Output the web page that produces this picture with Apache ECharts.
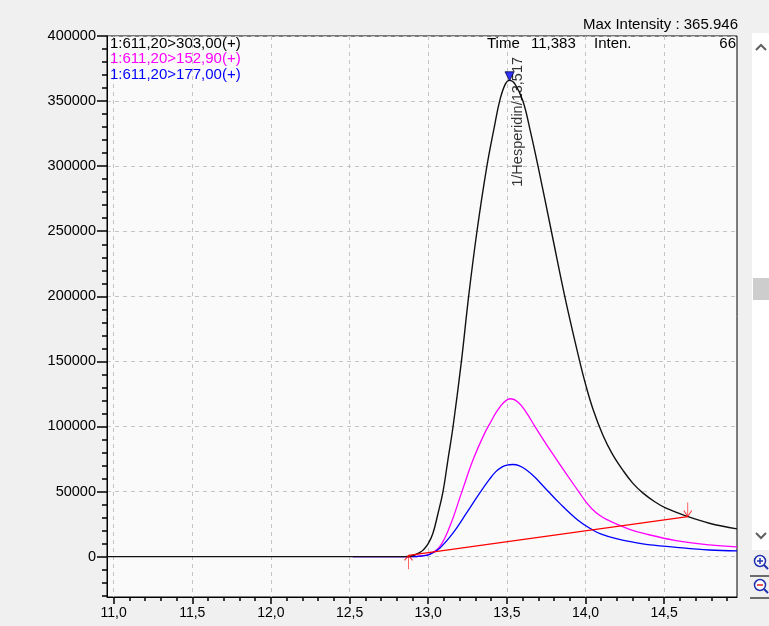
<!DOCTYPE html>
<html>
<head>
<meta charset="utf-8">
<script src="https://cdn.jsdelivr.net/npm/echarts@6/dist/echarts.min.js"></script>
<style>
  html, body { margin: 0; padding: 0; background: #f0f0f0; }
  #chart { width: 769px; height: 626px; }
</style>
</head>
<body>
<div id="chart"></div>
<script>
// MRM transitions of precursor 611,20 (Hesperidin)
const name303 = '1:611,20>303,00(+)';
const name1529 = '1:611,20>152,90(+)';
const name177 = '1:611,20>177,00(+)';

// retention time (min) / intensity for 611,20 > 303,00
const time303 = [10.958, 12.50, 12.85, 12.90, 12.95, 12.967, 13.00, 13.03, 13.06, 13.094, 13.126, 13.158,
  13.211, 13.257, 13.31, 13.373, 13.42, 13.454, 13.49, 13.517, 13.55, 13.602, 13.65, 13.698,
  13.783, 13.868, 13.963, 14.0, 14.047, 14.11, 14.17, 14.237, 14.30, 14.364, 14.44, 14.512, 14.65, 14.787, 14.963];
const inten303 = [0, 0, 0, 700, 3500, 5000, 10000, 18000, 32000, 50000, 75000, 100000,
  150000, 200000, 250000, 300000, 330000, 350000, 363000, 365946, 363500, 350000, 326500, 300000,
  250000, 200000, 150000, 132500, 113500, 93500, 79000, 66500, 56500, 49000, 42200, 37200, 30800, 25700, 21300];

// 611,20 > 152,90
const time1529 = [12.52, 12.90, 12.95, 13.01, 13.073, 13.137, 13.211, 13.285, 13.359, 13.40, 13.433, 13.48,
  13.524, 13.57, 13.62, 13.676, 13.75, 13.814, 13.89, 13.962, 14.0, 14.04, 14.089, 14.14, 14.195,
  14.28, 14.364, 14.576, 14.787, 14.963];
const inten1529 = [0, 0, 500, 2000, 7700, 23100, 48800, 74400, 94900, 104000, 111000, 118500,
  121300, 118800, 111500, 100500, 86500, 75000, 61500, 49000, 42500, 36800, 31800, 28200, 25200,
  21000, 18000, 12300, 9000, 7500];

// 611,20 > 177,00
const time177 = [12.52, 12.90, 12.95, 13.01, 13.073, 13.157, 13.243, 13.327, 13.39, 13.43, 13.47, 13.50, 13.539,
  13.58, 13.623, 13.68, 13.729, 13.835, 13.95, 14.046, 14.10, 14.195, 14.364, 14.576, 14.787, 14.963];
const inten177 = [0, 0, 400, 1800, 6500, 18000, 33400, 48800, 59500, 65300, 69000, 70400, 70800,
  69800, 66800, 60800, 54500, 41100, 28200, 20500, 17300, 13800, 9800, 7200, 5100, 4400];

// integration baseline (start / end)
const baselineTime = [12.875, 14.65];
const baselineInten = [1000, 30800];

// detected peak
const peakName = 'Hesperidin';
const peakTime = 13.517;
const peakInten = 365946;

// cursor readout
const cursorTime = '11,383';
const cursorInten = '66';

// axis ticks and labels
const xMajorTicks = [11.0, 11.5, 12.0, 12.5, 13.0, 13.5, 14.0, 14.5];
const yMajorTicks = [0, 50000, 100000, 150000, 200000, 250000, 300000, 350000, 400000];
const X_MIN = 10.958, X_MAX = 14.963;
const Y_MIN = -31000, Y_MAX = 400000;

const xMinorTicks = [];
for (let i = 110; i <= 149; i++) xMinorTicks.push(i / 10);
const yMinorTicks = [];
for (let v = -30000; v <= 400000; v += 10000) yMinorTicks.push(v);

const zip = (xs, ys) => xs.map((x, i) => [x, ys[i]]);
const comma = (v, d) => v.toFixed(d).replace('.', ',');
const thousands = v => String(Math.round(v)).replace(/\B(?=(\d{3})+(?!\d))/g, '.');

const FONT = '"Liberation Sans", Arial, sans-serif';
const gridLine = { show: true, lineStyle: { color: '#c4c4c4', type: [4, 4], width: 1 } };

const chart = echarts.init(document.getElementById('chart'), null, { renderer: 'canvas' });

const lineSeries = (name, xs, ys, color, z, width) => ({
  name, type: 'line', data: zip(xs, ys), xAxisIndex: 0, yAxisIndex: 0,
  showSymbol: false, smooth: 0.4, z,
  lineStyle: { color, width }, itemStyle: { color },
  silent: true, animation: false
});

const maxIntensity = Math.max(...inten303);

chart.setOption({
  backgroundColor: '#f0f0f0',
  animation: false,
  textStyle: { fontFamily: FONT },
  grid: {
    left: 107, right: 32, top: 36, bottom: 29, show: true,
    backgroundColor: '#fafafa', borderColor: '#000', borderWidth: 1
  },
  legend: {
    orient: 'vertical', left: 105, top: 36, icon: 'none',
    itemWidth: 0, itemHeight: 10, itemGap: 0, selectedMode: false,
    padding: 0,
    textStyle: { fontSize: 15, fontFamily: FONT, lineHeight: 15.5 },
    data: [
      { name: name303, textStyle: { color: '#000000' } },
      { name: name1529, textStyle: { color: '#ff00ff' } },
      { name: name177, textStyle: { color: '#0000ff' } }
    ]
  },
  xAxis: [{
    type: 'value', min: X_MIN, max: X_MAX, position: 'bottom',
    axisLine: { show: true, onZero: false, lineStyle: { color: '#000', width: 1 } },
    axisTick: { show: true, length: 7, customValues: xMajorTicks, lineStyle: { color: '#000', width: 1.5 } },
    axisLabel: {
      customValues: xMajorTicks, margin: 9, color: '#000', fontSize: 14, fontFamily: FONT,
      formatter: v => comma(v, 1)
    },
    splitLine: gridLine
  }, {
    type: 'value', min: X_MIN, max: X_MAX, position: 'bottom',
    axisLine: { show: false, onZero: false },
    axisTick: { show: true, length: 4, customValues: xMinorTicks, lineStyle: { color: '#000', width: 1.5 } },
    axisLabel: { show: false },
    splitLine: { show: false }
  }],
  yAxis: [{
    type: 'value', min: Y_MIN, max: Y_MAX, position: 'left',
    axisLine: { show: true, onZero: false, lineStyle: { color: '#000', width: 1 } },
    axisTick: { show: true, length: 10, customValues: yMajorTicks, lineStyle: { color: '#000', width: 1.5 } },
    axisLabel: {
      customValues: yMajorTicks, margin: 11, color: '#000', fontSize: 14.5, fontFamily: FONT,
      formatter: v => String(v)
    },
    splitLine: gridLine
  }, {
    type: 'value', min: Y_MIN, max: Y_MAX, position: 'left',
    axisLine: { show: false, onZero: false },
    axisTick: { show: true, length: 5, customValues: yMinorTicks, lineStyle: { color: '#000', width: 1.5 } },
    axisLabel: { show: false },
    splitLine: { show: false }
  }],
  series: [
    lineSeries(name1529, time1529, inten1529, '#ff00ff', 3, 1.3),
    lineSeries(name177, time177, inten177, '#0000ff', 4, 1.3),
    lineSeries(name303, time303, inten303, '#111111', 5, 1.4),
    {
      name: 'baseline', type: 'line', data: zip(baselineTime, baselineInten),
      showSymbol: false, z: 6, silent: true,
      lineStyle: { color: '#ff0000', width: 1.2 }
    },
    {
      // peak start marker (arrow pointing up at the baseline start)
      name: 'peakStart', type: 'scatter', z: 7, silent: true,
      data: [[baselineTime[0], baselineInten[0]]],
      symbol: 'path://M5,0 L5,14 M5,0 L1,5 M5,0 L9,5',
      symbolSize: [8, 14], symbolOffset: [0, 7],
      itemStyle: { color: 'rgba(0,0,0,0)', borderColor: '#ff0000', borderWidth: 1 }
    },
    {
      // peak end marker (arrow pointing down at the baseline end)
      name: 'peakEnd', type: 'scatter', z: 7, silent: true,
      data: [[baselineTime[1], baselineInten[1]]],
      symbol: 'path://M5,14 L5,0 M5,14 L1,8 M5,14 L9,8',
      symbolSize: [8, 14], symbolOffset: [0, -7],
      itemStyle: { color: 'rgba(0,0,0,0)', borderColor: '#ff0000', borderWidth: 1 }
    },
    {
      // apex marker
      name: 'apex', type: 'scatter', z: 8, silent: true,
      data: [[peakTime, peakInten]],
      symbol: 'triangle', symbolRotate: 180, symbolSize: [9, 9], symbolOffset: [0, -4],
      itemStyle: { color: '#0000ff', borderColor: '#000040', borderWidth: 1 }
    },
    {
      // peak annotation
      name: 'apexLabel', type: 'scatter', z: 9, silent: true,
      data: [[peakTime, peakInten]],
      symbol: 'circle', symbolSize: 1,
      itemStyle: { color: 'rgba(0,0,0,0)' },
      label: {
        show: true, rotate: 90, position: [8.5, 42], align: 'center', verticalAlign: 'middle',
        fontSize: 14.5, fontFamily: FONT, color: '#000',
        formatter: () => '1/' + peakName + '/' + comma(peakTime, 3)
      }
    }
  ],
  graphic: [
    {
      type: 'text', right: 31, top: 17, silent: true,
      style: { text: 'Max Intensity : ' + thousands(maxIntensity), fill: '#000', font: '15px ' + FONT }
    },
    { type: 'text', left: 487, top: 36, silent: true, style: { text: 'Time', fill: '#000', font: '15px ' + FONT } },
    { type: 'text', left: 531, top: 36, silent: true, style: { text: cursorTime, fill: '#000', font: '15px ' + FONT } },
    { type: 'text', left: 594, top: 36, silent: true, style: { text: 'Inten.', fill: '#000', font: '15px ' + FONT } },
    { type: 'text', right: 33, top: 36, silent: true, style: { text: cursorInten, fill: '#000', font: '15px ' + FONT } },
    // vertical scroll bar
    { type: 'rect', silent: true, shape: { x: 752, y: 33, width: 17, height: 517 }, style: { fill: '#ffffff' } },
    { type: 'rect', silent: true, shape: { x: 753, y: 278, width: 16, height: 22 }, style: { fill: '#cdcdcd' } },
    { type: 'polyline', silent: true, shape: { points: [[756, 50], [761, 45], [766, 50]] }, style: { stroke: '#606060', lineWidth: 2, fill: null } },
    { type: 'polyline', silent: true, shape: { points: [[756, 533], [761, 538], [766, 533]] }, style: { stroke: '#606060', lineWidth: 2, fill: null } },
    // zoom buttons
    { type: 'circle', silent: true, shape: { cx: 760, cy: 561, r: 5.5 }, style: { fill: '#ffffff', stroke: '#2030b0', lineWidth: 1.5 } },
    { type: 'polyline', silent: true, shape: { points: [[757, 561], [763, 561]] }, style: { stroke: '#2030b0', lineWidth: 1.5 } },
    { type: 'polyline', silent: true, shape: { points: [[760, 558], [760, 564]] }, style: { stroke: '#2030b0', lineWidth: 1.5 } },
    { type: 'polyline', silent: true, shape: { points: [[764, 565], [768, 569]] }, style: { stroke: '#2030b0', lineWidth: 2 } },
    { type: 'polyline', silent: true, shape: { points: [[750, 576], [769, 576]] }, style: { stroke: '#404040', lineWidth: 1.5 } },
    { type: 'circle', silent: true, shape: { cx: 760, cy: 585, r: 5.5 }, style: { fill: '#ffffff', stroke: '#2030b0', lineWidth: 1.5 } },
    { type: 'polyline', silent: true, shape: { points: [[757, 585], [763, 585]] }, style: { stroke: '#e02020', lineWidth: 1.5 } },
    { type: 'polyline', silent: true, shape: { points: [[764, 589], [768, 593]] }, style: { stroke: '#2030b0', lineWidth: 2 } },
    { type: 'polyline', silent: true, shape: { points: [[750, 598], [769, 598]] }, style: { stroke: '#404040', lineWidth: 1.5 } }
  ]
});
</script>
</body>
</html>
